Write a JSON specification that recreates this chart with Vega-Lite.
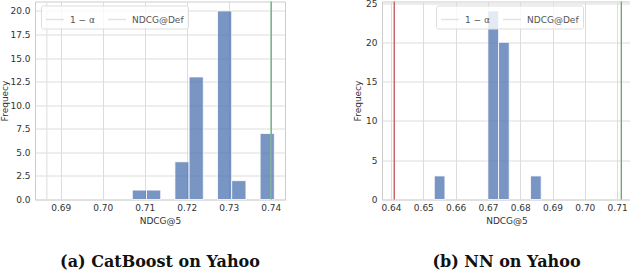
{
  "$schema": "https://vega.github.io/schema/vega-lite/v6.json",
  "padding": {"left": 0, "top": -1.5, "right": 0, "bottom": -1},
  "background": "white",
  "spacing": 67,
  "datasets": {
    "bars_a": [
      {"bin_start": 0.70705, "bin_end": 0.71043, "count": 1},
      {"bin_start": 0.71043, "bin_end": 0.71381, "count": 1},
      {"bin_start": 0.71719, "bin_end": 0.72057, "count": 4},
      {"bin_start": 0.72057, "bin_end": 0.72395, "count": 13},
      {"bin_start": 0.72733, "bin_end": 0.73071, "count": 20},
      {"bin_start": 0.73071, "bin_end": 0.73410, "count": 2},
      {"bin_start": 0.73748, "bin_end": 0.74086, "count": 7}
    ],
    "lines_a": [
      {"line": "1 − α", "value": 0.6867},
      {"line": "NDCG@Def", "value": 0.7401}
    ],
    "bars_b": [
      {"bin_start": 0.6534, "bin_end": 0.6567, "count": 3},
      {"bin_start": 0.6700, "bin_end": 0.6733, "count": 24},
      {"bin_start": 0.6733, "bin_end": 0.6766, "count": 20},
      {"bin_start": 0.6832, "bin_end": 0.6865, "count": 3}
    ],
    "lines_b": [
      {"line": "1 − α", "value": 0.6410},
      {"line": "NDCG@Def", "value": 0.7113}
    ]
  },
  "hconcat": [
    {
      "width": 250,
      "height": 198,
      "title": {"text": "(a) CatBoost on Yahoo", "orient": "bottom", "frame": "group", "anchor": "middle", "offset": 28},
      "layer": [
        {
          "data": {"name": "bars_a"},
          "mark": {"type": "bar", "color": "#4c72b0", "fillOpacity": 0.75, "stroke": "white", "strokeWidth": 0.8},
          "encoding": {
            "x": {"field": "bin_start", "type": "quantitative", "scale": {"domain": [0.68388, 0.7434], "nice": false, "zero": false},
                  "axis": {"title": "NDCG@5", "values": [0.69, 0.70, 0.71, 0.72, 0.73, 0.74], "format": ".2f", "labelOverlap": false, "tickCount": 20}},
            "x2": {"field": "bin_end"},
            "y": {"field": "count", "type": "quantitative", "scale": {"domain": [0, 21], "nice": false},
                  "axis": {"title": "Frequecy", "values": [0, 2.5, 5, 7.5, 10, 12.5, 15, 17.5, 20], "format": ".1f", "titlePadding": 0, "labelPadding": 5, "labelOverlap": false, "tickCount": 20}},
            "y2": {"datum": 0}
          }
        },
        {
          "data": {"name": "lines_a"},
          "mark": {"type": "rule", "strokeWidth": 1.2},
          "encoding": {
            "x": {"field": "value", "type": "quantitative"},
            "color": {"field": "line", "type": "nominal", "scale": {"domain": ["1 − α", "NDCG@Def"], "range": ["#e2e2e2", "#e2e2e2"]},
                      "legend": {"legendX": 6, "legendY": 4}}
          }
        },
        {
          "data": {"name": "lines_a"},
          "transform": [{"filter": "datum.line == 'NDCG@Def'"}],
          "mark": {"type": "rule", "strokeWidth": 1.2, "color": "#55a868"},
          "encoding": {"x": {"field": "value", "type": "quantitative"}}
        }
      ]
    },
    {
      "width": 249,
      "height": 198,
      "title": {"text": "(b) NN on Yahoo", "orient": "bottom", "frame": "group", "anchor": "middle", "offset": 28},
      "layer": [
        {
          "data": {"name": "bars_b"},
          "mark": {"type": "bar", "color": "#4c72b0", "fillOpacity": 0.75, "stroke": "white", "strokeWidth": 0.8},
          "encoding": {
            "x": {"field": "bin_start", "type": "quantitative", "scale": {"domain": [0.63721, 0.7143], "nice": false, "zero": false},
                  "axis": {"title": "NDCG@5", "values": [0.64, 0.65, 0.66, 0.67, 0.68, 0.69, 0.70, 0.71], "format": ".2f", "labelOverlap": false, "tickCount": 20}},
            "x2": {"field": "bin_end"},
            "y": {"field": "count", "type": "quantitative", "scale": {"domain": [0, 25.2], "nice": false},
                  "axis": {"title": "Frequecy", "values": [0, 5, 10, 15, 20, 25], "format": "d", "titlePadding": 3, "labelPadding": 5, "labelOverlap": false, "tickCount": 20}},
            "y2": {"datum": 0}
          }
        },
        {
          "data": {"name": "lines_b"},
          "mark": {"type": "rule", "strokeWidth": 1.2},
          "encoding": {
            "x": {"field": "value", "type": "quantitative"},
            "color": {"field": "line", "type": "nominal", "scale": {"domain": ["1 − α", "NDCG@Def"], "range": ["#e2e2e2", "#e2e2e2"]},
                      "legend": {"legendX": 54, "legendY": 4}}
          }
        },
        {
          "data": {"name": "lines_b"},
          "transform": [{"filter": "datum.line == '1 − α'"}],
          "mark": {"type": "rule", "strokeWidth": 1.2, "color": "#c44e52"},
          "encoding": {"x": {"field": "value", "type": "quantitative"}}
        },
        {
          "data": {"name": "lines_b"},
          "transform": [{"filter": "datum.line == 'NDCG@Def'"}],
          "mark": {"type": "rule", "strokeWidth": 1.2, "color": "#55a868"},
          "encoding": {"x": {"field": "value", "type": "quantitative"}}
        }
      ]
    }
  ],
  "resolve": {"scale": {"color": "independent"}, "legend": {"color": "independent"}},
  "config": {
    "view": {"stroke": "#cccccc", "strokeWidth": 1},
    "axis": {
      "labelFont": "DejaVu Sans", "labelFontSize": 9, "labelColor": "#333333", "labelOverlap": false,
      "titleFont": "DejaVu Sans", "titleFontSize": 9, "titleFontWeight": "normal", "titleColor": "#333333",
      "domain": false, "ticks": false, "gridColor": "#dcdcdc", "gridWidth": 1
    },
    "axisX": {"labelPadding": 4, "titlePadding": 4},
    "legend": {
      "orient": "none", "direction": "horizontal", "title": null,
      "symbolType": "stroke", "symbolSize": 324, "symbolStrokeWidth": 1.5,
      "labelFont": "DejaVu Sans", "labelFontSize": 9, "labelColor": "#555555", "labelOffset": 5,
      "columnPadding": 10, "padding": 4,
      "fillColor": "rgba(255,255,255,0.8)", "strokeColor": "#dddddd", "cornerRadius": 2
    },
    "title": {"font": "DejaVu Serif", "fontSize": 16, "fontWeight": "bold", "color": "#111111"}
  }
}
